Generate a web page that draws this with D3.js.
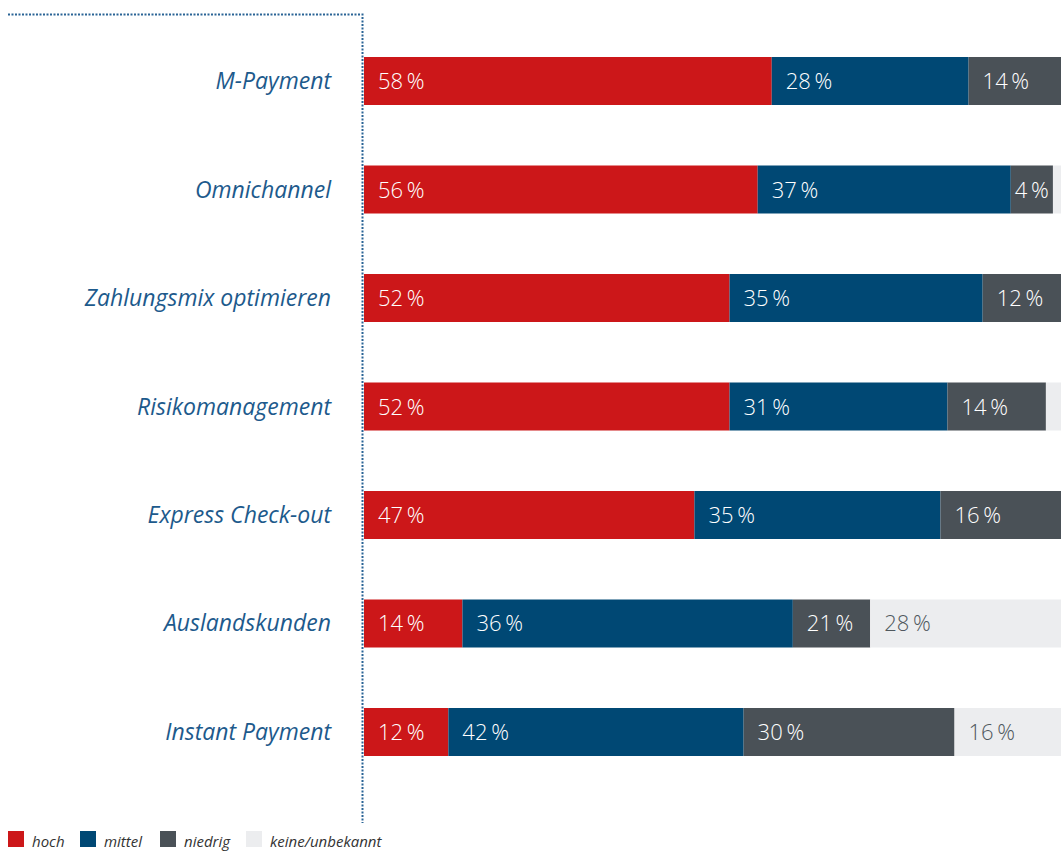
<!DOCTYPE html>
<html>
<head>
<meta charset="utf-8">
<script src="https://cdn.jsdelivr.net/npm/d3@7"></script>
<style>
  body { margin: 0; background: #fff; }
  svg { display: block; }
</style>
</head>
<body>
<div id="chart"></div>
<script>
'use strict';

// categories, top to bottom
const categories = ["M-Payment", "Omnichannel", "Zahlungsmix optimieren", "Risikomanagement",
    "Express Check-out", "Auslandskunden", "Instant Payment"];

// printed percentages (null = no label shown)
const hochLabels    = [58, 56, 52, 52, 47, 14, 12];
const mittelLabels  = [28, 37, 35, 31, 35, 36, 42];
const niedrigLabels = [14, 4, 12, 14, 16, 21, 30];
const keineLabels   = [null, null, null, null, null, 28, 16];

// segment lengths as drawn in the picture (percent of full bar)
const hochBars    = [58, 56, 52, 52, 47, 14, 12];
const mittelBars  = [28, 36, 36, 31, 35, 47, 42];
const niedrigBars = [14, 6, 12, 14, 18, 11, 30];
const keineBars   = [0, 2, 0, 3, 0, 28, 16];

const seriesKeys = ["hoch", "mittel", "niedrig", "keine"];
const legendNames = ["hoch", "mittel", "niedrig", "keine/unbekannt"];
const colors = ["#cc1719", "#004874", "#4a5157", "#ecedef"];
const textColors = ["#ffffff", "#ffffff", "#ffffff", "#50585e"];

const width = 1061, height = 851;

const drawChart = () => {
    const rows = categories.map((c, i) => ({
        category: c,
        hoch: hochBars[i], mittel: mittelBars[i], niedrig: niedrigBars[i], keine: keineBars[i],
        labels: [hochLabels[i], mittelLabels[i], niedrigLabels[i], keineLabels[i]]
    }));

    const svg = d3.select("#chart")
        .append("svg")
        .attr("width", width)
        .attr("height", height);

    const x = d3.scaleLinear()
        .domain([0, 100])
        .range([364, 1067]);

    const y = d3.scaleBand()
        .domain(categories)
        .range([57, 756])
        .paddingInner(0.5576)
        .paddingOuter(0);

    const stacked = d3.stack().keys(seriesKeys)(rows);

    // bars
    const layers = svg.selectAll("g.layer")
        .data(stacked)
        .enter()
        .append("g")
        .attr("class", "layer")
        .attr("fill", (d, i) => colors[i]);

    layers.selectAll("rect")
        .data(d => d)
        .enter()
        .append("rect")
        .attr("x", d => x(d[0]))
        .attr("y", d => y(d.data.category))
        .attr("width", d => Math.max(0, x(d[1]) - x(d[0])))
        .attr("height", y.bandwidth());

    // value labels
    stacked.forEach((layer, si) => {
        layer.forEach(d => {
            const v = d.data.labels[si];
            if (v == null) return;
            const t = svg.append("text")
                .attr("y", y(d.data.category) + y.bandwidth() / 2 + 8)
                .attr("fill", textColors[si])
                .style("font-family", "'Open Sans', sans-serif")
                .style("font-weight", 300)
                .style("font-size", "22px")
                .text(v + "\u2009%");
            const tw = t.node().getComputedTextLength();
            const segW = x(d[1]) - x(d[0]);
            if (segW < tw + 28) {
                t.attr("x", x(d[0]) + (segW - tw) / 2);
            } else {
                t.attr("x", x(d[0]) + 14);
            }
        });
    });

    // category labels
    svg.selectAll("text.cat")
        .data(categories)
        .enter()
        .append("text")
        .attr("class", "cat")
        .attr("x", 331)
        .attr("y", d => y(d) + y.bandwidth() / 2 + 8)
        .attr("text-anchor", "end")
        .attr("fill", "#1d5a8c")
        .style("font-family", "'Open Sans', sans-serif")
        .style("font-style", "italic")
        .style("font-size", "23px")
        .text(d => d);

    // dotted frame lines
    svg.append("path")
        .attr("d", "M8,14.5H362.5V823")
        .attr("fill", "none")
        .attr("stroke", "#2a6496")
        .attr("stroke-width", 2)
        .attr("stroke-dasharray", "2,1.5");

    // legend
    const legendX = [8, 80, 160, 246];
    const legend = svg.selectAll("g.legend")
        .data(legendNames)
        .enter()
        .append("g")
        .attr("class", "legend")
        .attr("transform", (d, i) => "translate(" + legendX[i] + ",831)");

    legend.append("rect")
        .attr("width", 16)
        .attr("height", 16)
        .attr("fill", (d, i) => colors[i]);

    legend.append("text")
        .attr("x", 24)
        .attr("y", 16)
        .attr("fill", "#333")
        .style("font-family", "'Open Sans', sans-serif")
        .style("font-style", "italic")
        .style("font-size", "15px")
        .text(d => d);
}

drawChart();
</script>
</body>
</html>
